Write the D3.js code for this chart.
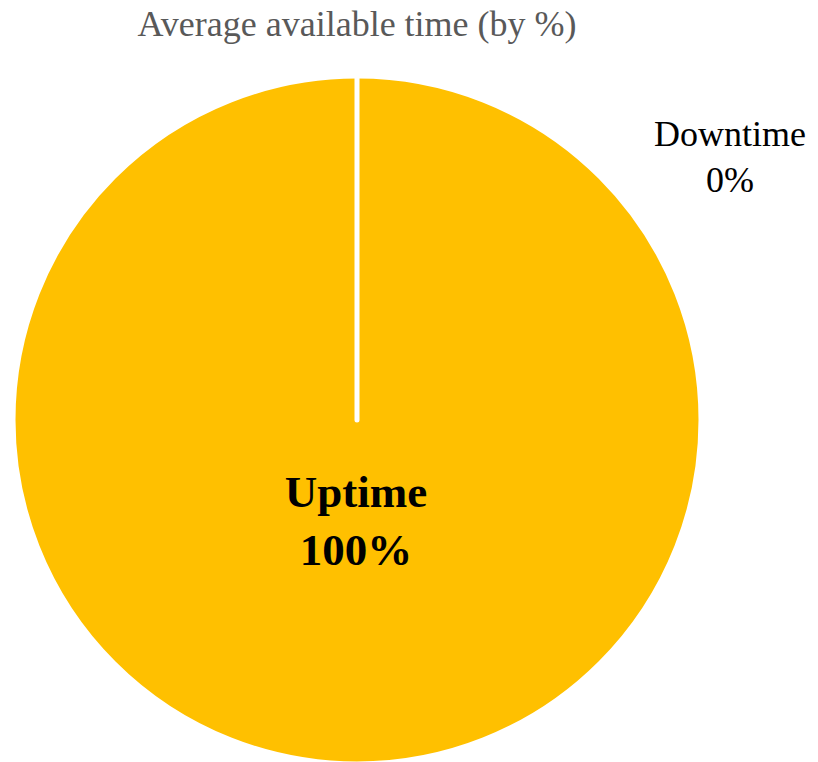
<!DOCTYPE html>
<html>
<head>
<meta charset="utf-8">
<script src="https://cdn.jsdelivr.net/npm/d3@7"></script>
<style>
  body { margin: 0; background: #fff; }
  text { font-family: "Liberation Serif", "Times New Roman", serif; }
</style>
</head>
<body>
<svg id="chart" width="818" height="762"></svg>
<script>
const labels = ["Uptime", "Downtime"];
const values = [100, 0];
const colors = ["#FFC000", "#ED7D31"];

const svg = d3.select("#chart"),
    width = +svg.attr("width"),
    height = +svg.attr("height");

const cx = 357, cy = 420, radius = 344;

svg.append("text")
  .attr("x", cx)
  .attr("y", 36)
  .attr("text-anchor", "middle")
  .style("font-size", "36px")
  .style("fill", "#595959")
  .text("Average available time (by %)");

const pie = d3.pie().sort(null).value(d => d.value);
const arc = d3.arc().innerRadius(0).outerRadius(radius);

const data = labels.map((l, i) => ({ label: l, value: values[i], color: colors[i] }));
const arcs = pie(data);

const g = svg.append("g").attr("transform", `translate(${cx},${cy})`);

g.selectAll("path")
  .data(arcs)
  .join("path")
    .attr("d", arc)
    .attr("fill", d => d.data.color)
    .attr("stroke", "#fff")
    .attr("stroke-width", 5)
    .attr("stroke-linejoin", "round");

// label placement: inside for the big slice, outside top-right for the empty one
const labelArc = d3.arc().innerRadius(radius * 0.32).outerRadius(radius * 0.32);
const total = d3.sum(values);

g.selectAll("text.lbl")
  .data(arcs)
  .join("text")
    .attr("class", "lbl")
    .attr("text-anchor", "middle")
    .attr("transform", function(d, i) {
      if (i === 0) {
        const c = labelArc.centroid(d);
        return `translate(${c[0] - 1},${c[1] - 23})`;
      }
      return `translate(${373},${-274})`;
    })
    .style("font-size", (d, i) => i === 0 ? "45px" : "36px")
    .style("font-weight", (d, i) => i === 0 ? "bold" : "normal")
    .style("fill", "#000")
    .each(function(d) {
      const t = d3.select(this);
      const big = d.index === 0;
      t.append("tspan").attr("x", 0).attr("dy", 0).text(d.data.label);
      t.append("tspan").attr("x", 0).attr("dy", big ? 58 : 46)
        .text(Math.round(d.data.value / total * 100) + "%");
    });
</script>
</body>
</html>
